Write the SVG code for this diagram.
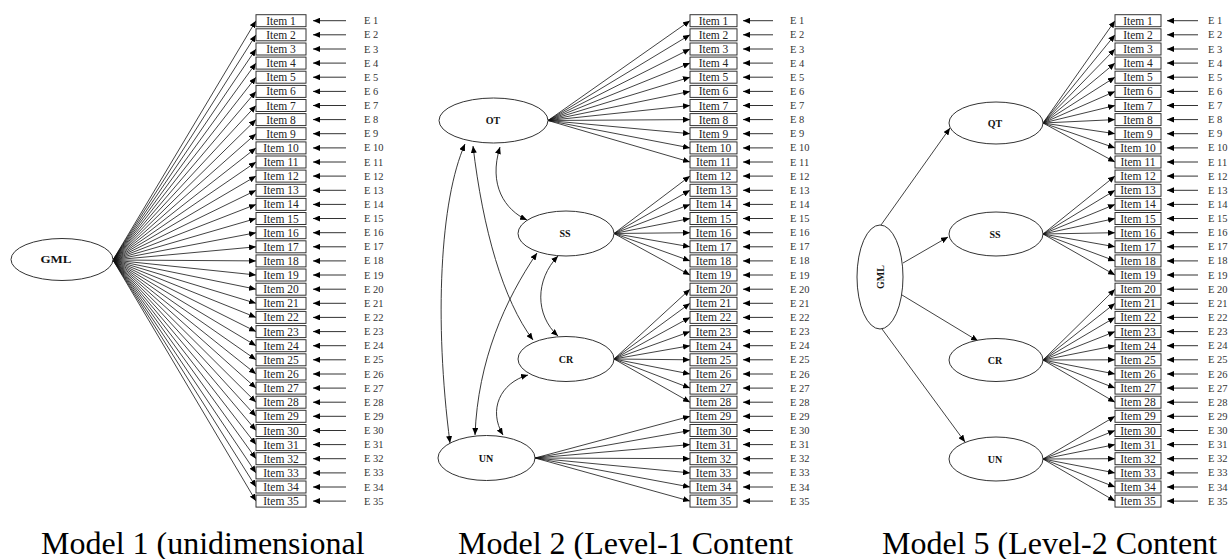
<svg xmlns="http://www.w3.org/2000/svg" width="1229" height="559" viewBox="0 0 1229 559">
<defs>
<marker id="ah" viewBox="0 0 7 6" refX="7" refY="3" markerWidth="7" markerHeight="6" markerUnits="userSpaceOnUse" orient="auto-start-reverse"><path d="M0,0 L7,3 L0,6 z" fill="#000"/></marker>
</defs>
<style>
.box{fill:#fff;stroke:#333;stroke-width:1}
.it{font-family:"Liberation Serif",serif;font-size:11.5px;fill:#222;text-anchor:middle}
.e{font-family:"Liberation Serif",serif;font-size:10.5px;fill:#333}
.lat{fill:#fff;stroke:#333;stroke-width:1}
.lt{font-family:"Liberation Serif",serif;font-weight:bold;font-size:10px;fill:#111;text-anchor:middle}
.ld path{stroke:#111;stroke-width:0.8;fill:none;marker-end:url(#ah)}
.er path{stroke:#333;stroke-width:1;fill:none;marker-end:url(#ah)}
.cv path{fill:none;stroke:#222;stroke-width:0.9;marker-start:url(#ah);marker-end:url(#ah)}
.cap{font-family:"Liberation Serif",serif;font-size:32px;fill:#000}
</style>
<rect width="1229" height="559" fill="#fff"/>
<g id="connectors">
<g class="ld" id="m1-loadings">
<path d="M113 260L256 20.7"/><path d="M113 260L256 34.8"/><path d="M113 260L256 49"/><path d="M113 260L256 63.1"/><path d="M113 260L256 77.2"/><path d="M113 260L256 91.4"/><path d="M113 260L256 105.5"/><path d="M113 260L256 119.6"/><path d="M113 260L256 133.7"/><path d="M113 260L256 147.9"/><path d="M113 260L256 162"/><path d="M113 260L256 176.1"/><path d="M113 260L256 190.3"/><path d="M113 260L256 204.4"/><path d="M113 260L256 218.5"/><path d="M113 260L256 232.7"/><path d="M113 260L256 246.8"/><path d="M113 260L256 260.9"/><path d="M113 260L256 275"/><path d="M113 260L256 289.2"/><path d="M113 260L256 303.3"/><path d="M113 260L256 317.4"/><path d="M113 260L256 331.6"/><path d="M113 260L256 345.7"/><path d="M113 260L256 359.8"/><path d="M113 260L256 374"/><path d="M113 260L256 388.1"/><path d="M113 260L256 402.2"/><path d="M113 260L256 416.3"/><path d="M113 260L256 430.5"/><path d="M113 260L256 444.6"/><path d="M113 260L256 458.7"/><path d="M113 260L256 472.9"/><path d="M113 260L256 487"/><path d="M113 260L256 501.1"/>
</g>
<g class="ld" id="m2-loadings">
<path d="M548 120.5L690 20.7"/><path d="M548 120.5L690 34.8"/><path d="M548 120.5L690 49"/><path d="M548 120.5L690 63.1"/><path d="M548 120.5L690 77.2"/><path d="M548 120.5L690 91.4"/><path d="M548 120.5L690 105.5"/><path d="M548 120.5L690 119.6"/><path d="M548 120.5L690 133.7"/><path d="M548 120.5L690 147.9"/><path d="M548 120.5L690 162"/>
<path d="M614 233.5L690 176.1"/><path d="M614 233.5L690 190.3"/><path d="M614 233.5L690 204.4"/><path d="M614 233.5L690 218.5"/><path d="M614 233.5L690 232.7"/><path d="M614 233.5L690 246.8"/><path d="M614 233.5L690 260.9"/><path d="M614 233.5L690 275"/>
<path d="M614 359L690 289.2"/><path d="M614 359L690 303.3"/><path d="M614 359L690 317.4"/><path d="M614 359L690 331.6"/><path d="M614 359L690 345.7"/><path d="M614 359L690 359.8"/><path d="M614 359L690 374"/><path d="M614 359L690 388.1"/><path d="M614 359L690 402.2"/>
<path d="M535 458L690 416.3"/><path d="M535 458L690 430.5"/><path d="M535 458L690 444.6"/><path d="M535 458L690 458.7"/><path d="M535 458L690 472.9"/><path d="M535 458L690 487"/><path d="M535 458L690 501.1"/>
</g>
<g class="ld" id="m5-loadings">
<path d="M1043 123L1115 20.7"/><path d="M1043 123L1115 34.8"/><path d="M1043 123L1115 49"/><path d="M1043 123L1115 63.1"/><path d="M1043 123L1115 77.2"/><path d="M1043 123L1115 91.4"/><path d="M1043 123L1115 105.5"/><path d="M1043 123L1115 119.6"/><path d="M1043 123L1115 133.7"/><path d="M1043 123L1115 147.9"/><path d="M1043 123L1115 162"/>
<path d="M1043 234L1115 176.1"/><path d="M1043 234L1115 190.3"/><path d="M1043 234L1115 204.4"/><path d="M1043 234L1115 218.5"/><path d="M1043 234L1115 232.7"/><path d="M1043 234L1115 246.8"/><path d="M1043 234L1115 260.9"/><path d="M1043 234L1115 275"/>
<path d="M1043 360L1115 289.2"/><path d="M1043 360L1115 303.3"/><path d="M1043 360L1115 317.4"/><path d="M1043 360L1115 331.6"/><path d="M1043 360L1115 345.7"/><path d="M1043 360L1115 359.8"/><path d="M1043 360L1115 374"/><path d="M1043 360L1115 388.1"/><path d="M1043 360L1115 402.2"/>
<path d="M1043 459L1115 416.3"/><path d="M1043 459L1115 430.5"/><path d="M1043 459L1115 444.6"/><path d="M1043 459L1115 458.7"/><path d="M1043 459L1115 472.9"/><path d="M1043 459L1115 487"/><path d="M1043 459L1115 501.1"/>
<path d="M881 225L950 128"/><path d="M903 263L948 237"/><path d="M902 295L978 341"/><path d="M882 329L965 442"/>
</g>
<g class="cv" id="m2-covariances">
<path d="M500 147C488 185 505 210 527 220"/>
<path d="M465 144C440 200 434 320 450 443"/>
<path d="M473 146C483 230 503 300 533 340"/>
<path d="M537 253C505 300 478 360 475 435"/>
<path d="M558 256C535 280 535 315 558 336"/>
<path d="M528 375C500 383 488 410 503 435"/>
</g>
<g class="er" id="m1-errors">
<path d="M346 20.7H313"/><path d="M346 34.8H313"/><path d="M346 49H313"/><path d="M346 63.1H313"/><path d="M346 77.2H313"/><path d="M346 91.4H313"/><path d="M346 105.5H313"/><path d="M346 119.6H313"/><path d="M346 133.7H313"/><path d="M346 147.9H313"/><path d="M346 162H313"/><path d="M346 176.1H313"/><path d="M346 190.3H313"/><path d="M346 204.4H313"/><path d="M346 218.5H313"/><path d="M346 232.7H313"/><path d="M346 246.8H313"/><path d="M346 260.9H313"/><path d="M346 275H313"/><path d="M346 289.2H313"/><path d="M346 303.3H313"/><path d="M346 317.4H313"/><path d="M346 331.6H313"/><path d="M346 345.7H313"/><path d="M346 359.8H313"/><path d="M346 374H313"/><path d="M346 388.1H313"/><path d="M346 402.2H313"/><path d="M346 416.3H313"/><path d="M346 430.5H313"/><path d="M346 444.6H313"/><path d="M346 458.7H313"/><path d="M346 472.9H313"/><path d="M346 487H313"/><path d="M346 501.1H313"/>
</g>
<g class="er" id="m2-errors">
<path d="M773 20.7H743"/><path d="M773 34.8H743"/><path d="M773 49H743"/><path d="M773 63.1H743"/><path d="M773 77.2H743"/><path d="M773 91.4H743"/><path d="M773 105.5H743"/><path d="M773 119.6H743"/><path d="M773 133.7H743"/><path d="M773 147.9H743"/><path d="M773 162H743"/><path d="M773 176.1H743"/><path d="M773 190.3H743"/><path d="M773 204.4H743"/><path d="M773 218.5H743"/><path d="M773 232.7H743"/><path d="M773 246.8H743"/><path d="M773 260.9H743"/><path d="M773 275H743"/><path d="M773 289.2H743"/><path d="M773 303.3H743"/><path d="M773 317.4H743"/><path d="M773 331.6H743"/><path d="M773 345.7H743"/><path d="M773 359.8H743"/><path d="M773 374H743"/><path d="M773 388.1H743"/><path d="M773 402.2H743"/><path d="M773 416.3H743"/><path d="M773 430.5H743"/><path d="M773 444.6H743"/><path d="M773 458.7H743"/><path d="M773 472.9H743"/><path d="M773 487H743"/><path d="M773 501.1H743"/>
</g>
<g class="er" id="m5-errors">
<path d="M1198 20.7H1167"/><path d="M1198 34.8H1167"/><path d="M1198 49H1167"/><path d="M1198 63.1H1167"/><path d="M1198 77.2H1167"/><path d="M1198 91.4H1167"/><path d="M1198 105.5H1167"/><path d="M1198 119.6H1167"/><path d="M1198 133.7H1167"/><path d="M1198 147.9H1167"/><path d="M1198 162H1167"/><path d="M1198 176.1H1167"/><path d="M1198 190.3H1167"/><path d="M1198 204.4H1167"/><path d="M1198 218.5H1167"/><path d="M1198 232.7H1167"/><path d="M1198 246.8H1167"/><path d="M1198 260.9H1167"/><path d="M1198 275H1167"/><path d="M1198 289.2H1167"/><path d="M1198 303.3H1167"/><path d="M1198 317.4H1167"/><path d="M1198 331.6H1167"/><path d="M1198 345.7H1167"/><path d="M1198 359.8H1167"/><path d="M1198 374H1167"/><path d="M1198 388.1H1167"/><path d="M1198 402.2H1167"/><path d="M1198 416.3H1167"/><path d="M1198 430.5H1167"/><path d="M1198 444.6H1167"/><path d="M1198 458.7H1167"/><path d="M1198 472.9H1167"/><path d="M1198 487H1167"/><path d="M1198 501.1H1167"/>
</g>
</g>

<g id="m1-GML"><ellipse class="lat" cx="62" cy="259.5" rx="51" ry="21"/><text class="lt" x="56" y="263" font-size="11" textLength="31" lengthAdjust="spacingAndGlyphs">GML</text></g>
<g id="m2-OT"><ellipse class="lat" cx="493.5" cy="120.5" rx="54.5" ry="22.5"/><text class="lt" x="493" y="124">OT</text></g>
<g id="m2-SS"><ellipse class="lat" cx="566" cy="233.5" rx="48" ry="22.5"/><text class="lt" x="565" y="237">SS</text></g>
<g id="m2-CR"><ellipse class="lat" cx="566" cy="359" rx="48" ry="22.5"/><text class="lt" x="566" y="362.5">CR</text></g>
<g id="m2-UN"><ellipse class="lat" cx="486.5" cy="458" rx="48.5" ry="22.5"/><text class="lt" x="486" y="461.5">UN</text></g>
<g id="m5-GML"><ellipse class="lat" cx="880" cy="277" rx="23" ry="52"/><text class="lt" transform="translate(883.5 277) rotate(-90)" x="0" y="0">GML</text></g>
<g id="m5-QT"><ellipse class="lat" cx="996" cy="123" rx="47" ry="21"/><text class="lt" x="995" y="126.5">QT</text></g>
<g id="m5-SS"><ellipse class="lat" cx="996" cy="234" rx="47" ry="22"/><text class="lt" x="995" y="237.5">SS</text></g>
<g id="m5-CR"><ellipse class="lat" cx="996" cy="360" rx="47" ry="21.5"/><text class="lt" x="995" y="363.5">CR</text></g>
<g id="m5-UN"><ellipse class="lat" cx="996" cy="459" rx="47" ry="22"/><text class="lt" x="995" y="462.5">UN</text></g>

<g id="m1-items">
<g id="m1-item1" transform="translate(256 14.7)"><rect class="box" width="50" height="12"/><text class="it" x="25" y="10">Item 1</text></g>
<g id="m1-item2" transform="translate(256 28.8)"><rect class="box" width="50" height="12"/><text class="it" x="25" y="10">Item 2</text></g>
<g id="m1-item3" transform="translate(256 43)"><rect class="box" width="50" height="12"/><text class="it" x="25" y="10">Item 3</text></g>
<g id="m1-item4" transform="translate(256 57.1)"><rect class="box" width="50" height="12"/><text class="it" x="25" y="10">Item 4</text></g>
<g id="m1-item5" transform="translate(256 71.2)"><rect class="box" width="50" height="12"/><text class="it" x="25" y="10">Item 5</text></g>
<g id="m1-item6" transform="translate(256 85.4)"><rect class="box" width="50" height="12"/><text class="it" x="25" y="10">Item 6</text></g>
<g id="m1-item7" transform="translate(256 99.5)"><rect class="box" width="50" height="12"/><text class="it" x="25" y="10">Item 7</text></g>
<g id="m1-item8" transform="translate(256 113.6)"><rect class="box" width="50" height="12"/><text class="it" x="25" y="10">Item 8</text></g>
<g id="m1-item9" transform="translate(256 127.7)"><rect class="box" width="50" height="12"/><text class="it" x="25" y="10">Item 9</text></g>
<g id="m1-item10" transform="translate(256 141.9)"><rect class="box" width="50" height="12"/><text class="it" x="25" y="10">Item 10</text></g>
<g id="m1-item11" transform="translate(256 156)"><rect class="box" width="50" height="12"/><text class="it" x="25" y="10">Item 11</text></g>
<g id="m1-item12" transform="translate(256 170.1)"><rect class="box" width="50" height="12"/><text class="it" x="25" y="10">Item 12</text></g>
<g id="m1-item13" transform="translate(256 184.3)"><rect class="box" width="50" height="12"/><text class="it" x="25" y="10">Item 13</text></g>
<g id="m1-item14" transform="translate(256 198.4)"><rect class="box" width="50" height="12"/><text class="it" x="25" y="10">Item 14</text></g>
<g id="m1-item15" transform="translate(256 212.5)"><rect class="box" width="50" height="12"/><text class="it" x="25" y="10">Item 15</text></g>
<g id="m1-item16" transform="translate(256 226.7)"><rect class="box" width="50" height="12"/><text class="it" x="25" y="10">Item 16</text></g>
<g id="m1-item17" transform="translate(256 240.8)"><rect class="box" width="50" height="12"/><text class="it" x="25" y="10">Item 17</text></g>
<g id="m1-item18" transform="translate(256 254.9)"><rect class="box" width="50" height="12"/><text class="it" x="25" y="10">Item 18</text></g>
<g id="m1-item19" transform="translate(256 269)"><rect class="box" width="50" height="12"/><text class="it" x="25" y="10">Item 19</text></g>
<g id="m1-item20" transform="translate(256 283.2)"><rect class="box" width="50" height="12"/><text class="it" x="25" y="10">Item 20</text></g>
<g id="m1-item21" transform="translate(256 297.3)"><rect class="box" width="50" height="12"/><text class="it" x="25" y="10">Item 21</text></g>
<g id="m1-item22" transform="translate(256 311.4)"><rect class="box" width="50" height="12"/><text class="it" x="25" y="10">Item 22</text></g>
<g id="m1-item23" transform="translate(256 325.6)"><rect class="box" width="50" height="12"/><text class="it" x="25" y="10">Item 23</text></g>
<g id="m1-item24" transform="translate(256 339.7)"><rect class="box" width="50" height="12"/><text class="it" x="25" y="10">Item 24</text></g>
<g id="m1-item25" transform="translate(256 353.8)"><rect class="box" width="50" height="12"/><text class="it" x="25" y="10">Item 25</text></g>
<g id="m1-item26" transform="translate(256 368)"><rect class="box" width="50" height="12"/><text class="it" x="25" y="10">Item 26</text></g>
<g id="m1-item27" transform="translate(256 382.1)"><rect class="box" width="50" height="12"/><text class="it" x="25" y="10">Item 27</text></g>
<g id="m1-item28" transform="translate(256 396.2)"><rect class="box" width="50" height="12"/><text class="it" x="25" y="10">Item 28</text></g>
<g id="m1-item29" transform="translate(256 410.3)"><rect class="box" width="50" height="12"/><text class="it" x="25" y="10">Item 29</text></g>
<g id="m1-item30" transform="translate(256 424.5)"><rect class="box" width="50" height="12"/><text class="it" x="25" y="10">Item 30</text></g>
<g id="m1-item31" transform="translate(256 438.6)"><rect class="box" width="50" height="12"/><text class="it" x="25" y="10">Item 31</text></g>
<g id="m1-item32" transform="translate(256 452.7)"><rect class="box" width="50" height="12"/><text class="it" x="25" y="10">Item 32</text></g>
<g id="m1-item33" transform="translate(256 466.9)"><rect class="box" width="50" height="12"/><text class="it" x="25" y="10">Item 33</text></g>
<g id="m1-item34" transform="translate(256 481)"><rect class="box" width="50" height="12"/><text class="it" x="25" y="10">Item 34</text></g>
<g id="m1-item35" transform="translate(256 495.1)"><rect class="box" width="50" height="12"/><text class="it" x="25" y="10">Item 35</text></g>
</g>

<g id="m2-items">
<g id="m2-item1" transform="translate(690 14.7)"><rect class="box" width="47" height="12"/><text class="it" x="23.5" y="10">Item 1</text></g>
<g id="m2-item2" transform="translate(690 28.8)"><rect class="box" width="47" height="12"/><text class="it" x="23.5" y="10">Item 2</text></g>
<g id="m2-item3" transform="translate(690 43)"><rect class="box" width="47" height="12"/><text class="it" x="23.5" y="10">Item 3</text></g>
<g id="m2-item4" transform="translate(690 57.1)"><rect class="box" width="47" height="12"/><text class="it" x="23.5" y="10">Item 4</text></g>
<g id="m2-item5" transform="translate(690 71.2)"><rect class="box" width="47" height="12"/><text class="it" x="23.5" y="10">Item 5</text></g>
<g id="m2-item6" transform="translate(690 85.4)"><rect class="box" width="47" height="12"/><text class="it" x="23.5" y="10">Item 6</text></g>
<g id="m2-item7" transform="translate(690 99.5)"><rect class="box" width="47" height="12"/><text class="it" x="23.5" y="10">Item 7</text></g>
<g id="m2-item8" transform="translate(690 113.6)"><rect class="box" width="47" height="12"/><text class="it" x="23.5" y="10">Item 8</text></g>
<g id="m2-item9" transform="translate(690 127.7)"><rect class="box" width="47" height="12"/><text class="it" x="23.5" y="10">Item 9</text></g>
<g id="m2-item10" transform="translate(690 141.9)"><rect class="box" width="47" height="12"/><text class="it" x="23.5" y="10">Item 10</text></g>
<g id="m2-item11" transform="translate(690 156)"><rect class="box" width="47" height="12"/><text class="it" x="23.5" y="10">Item 11</text></g>
<g id="m2-item12" transform="translate(690 170.1)"><rect class="box" width="47" height="12"/><text class="it" x="23.5" y="10">Item 12</text></g>
<g id="m2-item13" transform="translate(690 184.3)"><rect class="box" width="47" height="12"/><text class="it" x="23.5" y="10">Item 13</text></g>
<g id="m2-item14" transform="translate(690 198.4)"><rect class="box" width="47" height="12"/><text class="it" x="23.5" y="10">Item 14</text></g>
<g id="m2-item15" transform="translate(690 212.5)"><rect class="box" width="47" height="12"/><text class="it" x="23.5" y="10">Item 15</text></g>
<g id="m2-item16" transform="translate(690 226.7)"><rect class="box" width="47" height="12"/><text class="it" x="23.5" y="10">Item 16</text></g>
<g id="m2-item17" transform="translate(690 240.8)"><rect class="box" width="47" height="12"/><text class="it" x="23.5" y="10">Item 17</text></g>
<g id="m2-item18" transform="translate(690 254.9)"><rect class="box" width="47" height="12"/><text class="it" x="23.5" y="10">Item 18</text></g>
<g id="m2-item19" transform="translate(690 269)"><rect class="box" width="47" height="12"/><text class="it" x="23.5" y="10">Item 19</text></g>
<g id="m2-item20" transform="translate(690 283.2)"><rect class="box" width="47" height="12"/><text class="it" x="23.5" y="10">Item 20</text></g>
<g id="m2-item21" transform="translate(690 297.3)"><rect class="box" width="47" height="12"/><text class="it" x="23.5" y="10">Item 21</text></g>
<g id="m2-item22" transform="translate(690 311.4)"><rect class="box" width="47" height="12"/><text class="it" x="23.5" y="10">Item 22</text></g>
<g id="m2-item23" transform="translate(690 325.6)"><rect class="box" width="47" height="12"/><text class="it" x="23.5" y="10">Item 23</text></g>
<g id="m2-item24" transform="translate(690 339.7)"><rect class="box" width="47" height="12"/><text class="it" x="23.5" y="10">Item 24</text></g>
<g id="m2-item25" transform="translate(690 353.8)"><rect class="box" width="47" height="12"/><text class="it" x="23.5" y="10">Item 25</text></g>
<g id="m2-item26" transform="translate(690 368)"><rect class="box" width="47" height="12"/><text class="it" x="23.5" y="10">Item 26</text></g>
<g id="m2-item27" transform="translate(690 382.1)"><rect class="box" width="47" height="12"/><text class="it" x="23.5" y="10">Item 27</text></g>
<g id="m2-item28" transform="translate(690 396.2)"><rect class="box" width="47" height="12"/><text class="it" x="23.5" y="10">Item 28</text></g>
<g id="m2-item29" transform="translate(690 410.3)"><rect class="box" width="47" height="12"/><text class="it" x="23.5" y="10">Item 29</text></g>
<g id="m2-item30" transform="translate(690 424.5)"><rect class="box" width="47" height="12"/><text class="it" x="23.5" y="10">Item 30</text></g>
<g id="m2-item31" transform="translate(690 438.6)"><rect class="box" width="47" height="12"/><text class="it" x="23.5" y="10">Item 31</text></g>
<g id="m2-item32" transform="translate(690 452.7)"><rect class="box" width="47" height="12"/><text class="it" x="23.5" y="10">Item 32</text></g>
<g id="m2-item33" transform="translate(690 466.9)"><rect class="box" width="47" height="12"/><text class="it" x="23.5" y="10">Item 33</text></g>
<g id="m2-item34" transform="translate(690 481)"><rect class="box" width="47" height="12"/><text class="it" x="23.5" y="10">Item 34</text></g>
<g id="m2-item35" transform="translate(690 495.1)"><rect class="box" width="47" height="12"/><text class="it" x="23.5" y="10">Item 35</text></g>
</g>

<g id="m5-items">
<g id="m5-item1" transform="translate(1115 14.7)"><rect class="box" width="46" height="12"/><text class="it" x="23" y="10">Item 1</text></g>
<g id="m5-item2" transform="translate(1115 28.8)"><rect class="box" width="46" height="12"/><text class="it" x="23" y="10">Item 2</text></g>
<g id="m5-item3" transform="translate(1115 43)"><rect class="box" width="46" height="12"/><text class="it" x="23" y="10">Item 3</text></g>
<g id="m5-item4" transform="translate(1115 57.1)"><rect class="box" width="46" height="12"/><text class="it" x="23" y="10">Item 4</text></g>
<g id="m5-item5" transform="translate(1115 71.2)"><rect class="box" width="46" height="12"/><text class="it" x="23" y="10">Item 5</text></g>
<g id="m5-item6" transform="translate(1115 85.4)"><rect class="box" width="46" height="12"/><text class="it" x="23" y="10">Item 6</text></g>
<g id="m5-item7" transform="translate(1115 99.5)"><rect class="box" width="46" height="12"/><text class="it" x="23" y="10">Item 7</text></g>
<g id="m5-item8" transform="translate(1115 113.6)"><rect class="box" width="46" height="12"/><text class="it" x="23" y="10">Item 8</text></g>
<g id="m5-item9" transform="translate(1115 127.7)"><rect class="box" width="46" height="12"/><text class="it" x="23" y="10">Item 9</text></g>
<g id="m5-item10" transform="translate(1115 141.9)"><rect class="box" width="46" height="12"/><text class="it" x="23" y="10">Item 10</text></g>
<g id="m5-item11" transform="translate(1115 156)"><rect class="box" width="46" height="12"/><text class="it" x="23" y="10">Item 11</text></g>
<g id="m5-item12" transform="translate(1115 170.1)"><rect class="box" width="46" height="12"/><text class="it" x="23" y="10">Item 12</text></g>
<g id="m5-item13" transform="translate(1115 184.3)"><rect class="box" width="46" height="12"/><text class="it" x="23" y="10">Item 13</text></g>
<g id="m5-item14" transform="translate(1115 198.4)"><rect class="box" width="46" height="12"/><text class="it" x="23" y="10">Item 14</text></g>
<g id="m5-item15" transform="translate(1115 212.5)"><rect class="box" width="46" height="12"/><text class="it" x="23" y="10">Item 15</text></g>
<g id="m5-item16" transform="translate(1115 226.7)"><rect class="box" width="46" height="12"/><text class="it" x="23" y="10">Item 16</text></g>
<g id="m5-item17" transform="translate(1115 240.8)"><rect class="box" width="46" height="12"/><text class="it" x="23" y="10">Item 17</text></g>
<g id="m5-item18" transform="translate(1115 254.9)"><rect class="box" width="46" height="12"/><text class="it" x="23" y="10">Item 18</text></g>
<g id="m5-item19" transform="translate(1115 269)"><rect class="box" width="46" height="12"/><text class="it" x="23" y="10">Item 19</text></g>
<g id="m5-item20" transform="translate(1115 283.2)"><rect class="box" width="46" height="12"/><text class="it" x="23" y="10">Item 20</text></g>
<g id="m5-item21" transform="translate(1115 297.3)"><rect class="box" width="46" height="12"/><text class="it" x="23" y="10">Item 21</text></g>
<g id="m5-item22" transform="translate(1115 311.4)"><rect class="box" width="46" height="12"/><text class="it" x="23" y="10">Item 22</text></g>
<g id="m5-item23" transform="translate(1115 325.6)"><rect class="box" width="46" height="12"/><text class="it" x="23" y="10">Item 23</text></g>
<g id="m5-item24" transform="translate(1115 339.7)"><rect class="box" width="46" height="12"/><text class="it" x="23" y="10">Item 24</text></g>
<g id="m5-item25" transform="translate(1115 353.8)"><rect class="box" width="46" height="12"/><text class="it" x="23" y="10">Item 25</text></g>
<g id="m5-item26" transform="translate(1115 368)"><rect class="box" width="46" height="12"/><text class="it" x="23" y="10">Item 26</text></g>
<g id="m5-item27" transform="translate(1115 382.1)"><rect class="box" width="46" height="12"/><text class="it" x="23" y="10">Item 27</text></g>
<g id="m5-item28" transform="translate(1115 396.2)"><rect class="box" width="46" height="12"/><text class="it" x="23" y="10">Item 28</text></g>
<g id="m5-item29" transform="translate(1115 410.3)"><rect class="box" width="46" height="12"/><text class="it" x="23" y="10">Item 29</text></g>
<g id="m5-item30" transform="translate(1115 424.5)"><rect class="box" width="46" height="12"/><text class="it" x="23" y="10">Item 30</text></g>
<g id="m5-item31" transform="translate(1115 438.6)"><rect class="box" width="46" height="12"/><text class="it" x="23" y="10">Item 31</text></g>
<g id="m5-item32" transform="translate(1115 452.7)"><rect class="box" width="46" height="12"/><text class="it" x="23" y="10">Item 32</text></g>
<g id="m5-item33" transform="translate(1115 466.9)"><rect class="box" width="46" height="12"/><text class="it" x="23" y="10">Item 33</text></g>
<g id="m5-item34" transform="translate(1115 481)"><rect class="box" width="46" height="12"/><text class="it" x="23" y="10">Item 34</text></g>
<g id="m5-item35" transform="translate(1115 495.1)"><rect class="box" width="46" height="12"/><text class="it" x="23" y="10">Item 35</text></g>
</g>

<g id="m1-errors-labels" class="e">
<text id="m1-e1" x="364" y="24.2">E 1</text><text id="m1-e2" x="364" y="38.3">E 2</text><text id="m1-e3" x="364" y="52.5">E 3</text><text id="m1-e4" x="364" y="66.6">E 4</text><text id="m1-e5" x="364" y="80.7">E 5</text><text id="m1-e6" x="364" y="94.9">E 6</text><text id="m1-e7" x="364" y="109">E 7</text><text id="m1-e8" x="364" y="123.1">E 8</text><text id="m1-e9" x="364" y="137.2">E 9</text><text id="m1-e10" x="364" y="151.4">E 10</text><text id="m1-e11" x="364" y="165.5">E 11</text><text id="m1-e12" x="364" y="179.6">E 12</text><text id="m1-e13" x="364" y="193.8">E 13</text><text id="m1-e14" x="364" y="207.9">E 14</text><text id="m1-e15" x="364" y="222">E 15</text><text id="m1-e16" x="364" y="236.2">E 16</text><text id="m1-e17" x="364" y="250.3">E 17</text><text id="m1-e18" x="364" y="264.4">E 18</text><text id="m1-e19" x="364" y="278.5">E 19</text><text id="m1-e20" x="364" y="292.7">E 20</text><text id="m1-e21" x="364" y="306.8">E 21</text><text id="m1-e22" x="364" y="320.9">E 22</text><text id="m1-e23" x="364" y="335.1">E 23</text><text id="m1-e24" x="364" y="349.2">E 24</text><text id="m1-e25" x="364" y="363.3">E 25</text><text id="m1-e26" x="364" y="377.5">E 26</text><text id="m1-e27" x="364" y="391.6">E 27</text><text id="m1-e28" x="364" y="405.7">E 28</text><text id="m1-e29" x="364" y="419.8">E 29</text><text id="m1-e30" x="364" y="434">E 30</text><text id="m1-e31" x="364" y="448.1">E 31</text><text id="m1-e32" x="364" y="462.2">E 32</text><text id="m1-e33" x="364" y="476.4">E 33</text><text id="m1-e34" x="364" y="490.5">E 34</text><text id="m1-e35" x="364" y="504.6">E 35</text>
</g>
<g id="m2-errors-labels" class="e">
<text id="m2-e1" x="790" y="24.2">E 1</text><text id="m2-e2" x="790" y="38.3">E 2</text><text id="m2-e3" x="790" y="52.5">E 3</text><text id="m2-e4" x="790" y="66.6">E 4</text><text id="m2-e5" x="790" y="80.7">E 5</text><text id="m2-e6" x="790" y="94.9">E 6</text><text id="m2-e7" x="790" y="109">E 7</text><text id="m2-e8" x="790" y="123.1">E 8</text><text id="m2-e9" x="790" y="137.2">E 9</text><text id="m2-e10" x="790" y="151.4">E 10</text><text id="m2-e11" x="790" y="165.5">E 11</text><text id="m2-e12" x="790" y="179.6">E 12</text><text id="m2-e13" x="790" y="193.8">E 13</text><text id="m2-e14" x="790" y="207.9">E 14</text><text id="m2-e15" x="790" y="222">E 15</text><text id="m2-e16" x="790" y="236.2">E 16</text><text id="m2-e17" x="790" y="250.3">E 17</text><text id="m2-e18" x="790" y="264.4">E 18</text><text id="m2-e19" x="790" y="278.5">E 19</text><text id="m2-e20" x="790" y="292.7">E 20</text><text id="m2-e21" x="790" y="306.8">E 21</text><text id="m2-e22" x="790" y="320.9">E 22</text><text id="m2-e23" x="790" y="335.1">E 23</text><text id="m2-e24" x="790" y="349.2">E 24</text><text id="m2-e25" x="790" y="363.3">E 25</text><text id="m2-e26" x="790" y="377.5">E 26</text><text id="m2-e27" x="790" y="391.6">E 27</text><text id="m2-e28" x="790" y="405.7">E 28</text><text id="m2-e29" x="790" y="419.8">E 29</text><text id="m2-e30" x="790" y="434">E 30</text><text id="m2-e31" x="790" y="448.1">E 31</text><text id="m2-e32" x="790" y="462.2">E 32</text><text id="m2-e33" x="790" y="476.4">E 33</text><text id="m2-e34" x="790" y="490.5">E 34</text><text id="m2-e35" x="790" y="504.6">E 35</text>
</g>
<g id="m5-errors-labels" class="e">
<text id="m5-e1" x="1208" y="24.2">E 1</text><text id="m5-e2" x="1208" y="38.3">E 2</text><text id="m5-e3" x="1208" y="52.5">E 3</text><text id="m5-e4" x="1208" y="66.6">E 4</text><text id="m5-e5" x="1208" y="80.7">E 5</text><text id="m5-e6" x="1208" y="94.9">E 6</text><text id="m5-e7" x="1208" y="109">E 7</text><text id="m5-e8" x="1208" y="123.1">E 8</text><text id="m5-e9" x="1208" y="137.2">E 9</text><text id="m5-e10" x="1208" y="151.4">E 10</text><text id="m5-e11" x="1208" y="165.5">E 11</text><text id="m5-e12" x="1208" y="179.6">E 12</text><text id="m5-e13" x="1208" y="193.8">E 13</text><text id="m5-e14" x="1208" y="207.9">E 14</text><text id="m5-e15" x="1208" y="222">E 15</text><text id="m5-e16" x="1208" y="236.2">E 16</text><text id="m5-e17" x="1208" y="250.3">E 17</text><text id="m5-e18" x="1208" y="264.4">E 18</text><text id="m5-e19" x="1208" y="278.5">E 19</text><text id="m5-e20" x="1208" y="292.7">E 20</text><text id="m5-e21" x="1208" y="306.8">E 21</text><text id="m5-e22" x="1208" y="320.9">E 22</text><text id="m5-e23" x="1208" y="335.1">E 23</text><text id="m5-e24" x="1208" y="349.2">E 24</text><text id="m5-e25" x="1208" y="363.3">E 25</text><text id="m5-e26" x="1208" y="377.5">E 26</text><text id="m5-e27" x="1208" y="391.6">E 27</text><text id="m5-e28" x="1208" y="405.7">E 28</text><text id="m5-e29" x="1208" y="419.8">E 29</text><text id="m5-e30" x="1208" y="434">E 30</text><text id="m5-e31" x="1208" y="448.1">E 31</text><text id="m5-e32" x="1208" y="462.2">E 32</text><text id="m5-e33" x="1208" y="476.4">E 33</text><text id="m5-e34" x="1208" y="490.5">E 34</text><text id="m5-e35" x="1208" y="504.6">E 35</text>
</g>

<g id="captions">
<text class="cap" x="41" y="554">Model 1 (unidimensional</text>
<text class="cap" x="458" y="554">Model 2 (Level-1 Content</text>
<text class="cap" x="882" y="554">Model 5 (Level-2 Content</text>
</g>
</svg>
